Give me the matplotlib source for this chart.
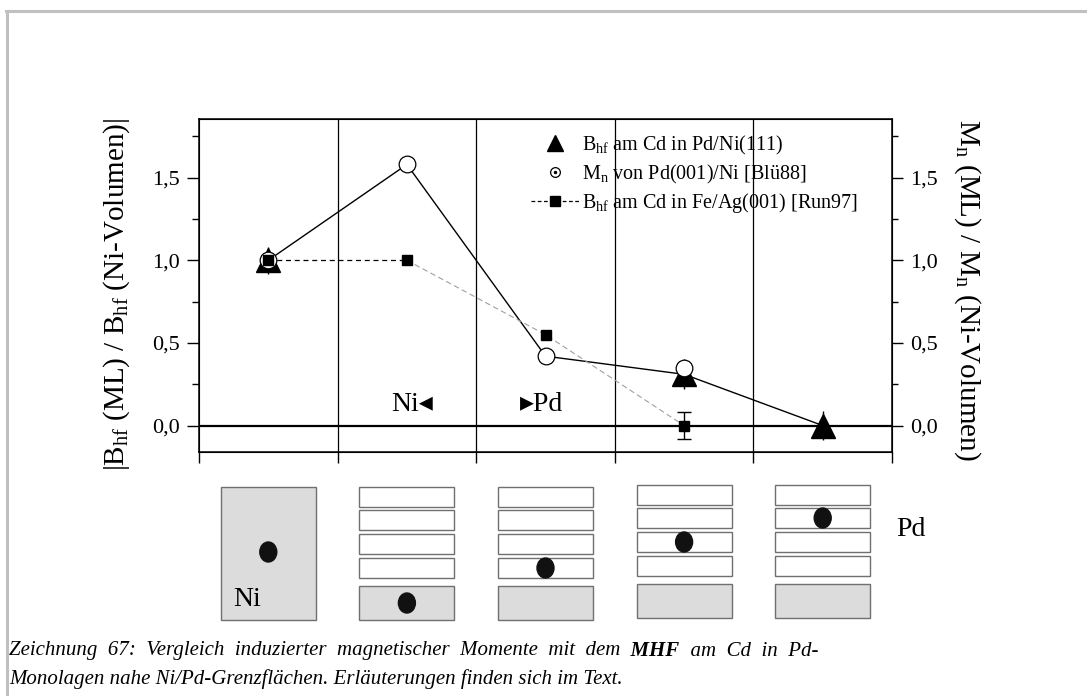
import numpy as np
import matplotlib
matplotlib.use("Agg")
import matplotlib.pyplot as plt
from matplotlib.lines import Line2D
from matplotlib.patches import Rectangle, Ellipse
from matplotlib.legend_handler import HandlerTuple

plt.rcParams['font.family'] = ['Liberation Serif', 'DejaVu Serif']
plt.rcParams['mathtext.fontset'] = 'custom'
plt.rcParams['mathtext.rm'] = 'Liberation Serif'
plt.rcParams['mathtext.it'] = 'Liberation Serif:italic'

# monolayer positions (Ni bulk, interface layer, Pd layers 1..3)
positions = [0.5, 1.5, 2.5, 3.5, 4.5]

# B_hf at Cd in Pd/Ni(111)
tri_x = [0.5, 3.5, 4.5]
tri_y = [1.0, 0.31, 0.0]
tri_err = [0.08, 0.09, 0.09]

# M_n of Pd(001)/Ni [Blü88]
circ_x = [0.5, 1.5, 2.5, 3.5]
circ_y = [1.0, 1.58, 0.42, 0.35]

# B_hf at Cd in Fe/Ag(001) [Run97]
sq_x = [0.5, 1.5, 2.5, 3.5]
sq_y = [1.0, 1.0, 0.55, 0.0]
sq_err = [0.0, 0.0, 0.0, 0.08]

yticks = [0.0, 0.5, 1.0, 1.5]
ytick_labels = ['0,0', '0,5', '1,0', '1,5']

# layer of the Cd probe in each sketch column (-1: Ni bulk, 0: Ni interface layer, 1..3: Pd layers)
probe_layer = [-1, 0, 1, 2, 3]

labels = [r'B$_{\rm hf}$ am Cd in Pd/Ni(111)',
          r'M$_{\rm n}$ von Pd(001)/Ni [Blü88]',
          r'B$_{\rm hf}$ am Cd in Fe/Ag(001) [Run97]']

W, H = 1087, 696
fig = plt.figure(figsize=(W / 100, H / 100), dpi=100)

# light grey page frame (left and top edge)
fig.add_artist(Line2D([7 / W, 7 / W], [0, 1 - 11 / H], transform=fig.transFigure,
                      color='#c0c0c0', lw=2.2))
fig.add_artist(Line2D([6 / W, 1], [1 - 11 / H, 1 - 11 / H], transform=fig.transFigure,
                      color='#c0c0c0', lw=2.2))

ax_l, ax_r, ax_t, ax_b = 199, 892, 119, 452
ax = fig.add_axes([ax_l / W, 1 - ax_b / H, (ax_r - ax_l) / W, (ax_b - ax_t) / H])
ax.set_xlim(0, 5)
ax.set_ylim(-0.16, 1.855)

for x in range(1, 5):
    ax.axvline(x, color='k', lw=0.9, zorder=1)
ax.axhline(0, color='k', lw=1.6, zorder=1)

# connecting lines
line_y = circ_y[:3] + tri_y[1:]
ax.plot(positions, line_y, color='k', lw=1.0, zorder=2)
ax.plot(sq_x[:2], sq_y[:2], color='k', lw=0.9, ls=(0, (4, 3)), zorder=2)
ax.plot(sq_x[1:], sq_y[1:], color='#a0a0a0', lw=0.8, ls=(0, (5, 3)), zorder=2)

ax.errorbar(tri_x, tri_y, yerr=tri_err, fmt='none', ecolor='k', elinewidth=1.0, zorder=3)
ax.plot(tri_x, tri_y, ls='none', marker='^', ms=17.5, color='k', zorder=4)
ax.plot(circ_x, circ_y, ls='none', marker='o', ms=12, mfc='white', mec='k', mew=0.9, zorder=5)
err_idx = [i for i, e in enumerate(sq_err) if e > 0]
ax.errorbar([sq_x[i] for i in err_idx], [sq_y[i] for i in err_idx],
            yerr=[sq_err[i] for i in err_idx], fmt='none', ecolor='k',
            elinewidth=1.0, capsize=5, capthick=1.0, zorder=5)
ax.plot(sq_x, sq_y, ls='none', marker='s', ms=7, color='k', zorder=6)

ax.text(1.54, 0.13, 'Ni◂', fontsize=20, ha='center', va='center',
        family=['Liberation Serif', 'DejaVu Sans'])
ax.text(2.47, 0.13, '▸Pd', fontsize=20, ha='center', va='center',
        family=['Liberation Serif', 'DejaVu Sans'])

ax.set_xticks(range(6))
ax.set_xticklabels([])
ax.tick_params(axis='x', direction='out', length=8, width=1.0, top=False)
ax.set_yticks(yticks)
ax.set_yticklabels(ytick_labels)
ax.set_yticks(np.arange(-0.0, 1.8, 0.25), minor=True)
ax.tick_params(axis='y', which='major', direction='out', length=9, width=1.0,
               labelsize=16, pad=5)
ax.tick_params(axis='y', which='minor', direction='out', length=5, width=1.0)
for s in ax.spines.values():
    s.set_linewidth(1.1)

ax2 = ax.twinx()
ax2.set_ylim(ax.get_ylim())
ax2.set_yticks(yticks)
ax2.set_yticklabels(ytick_labels)
ax2.set_yticks(np.arange(-0.0, 1.8, 0.25), minor=True)
ax2.tick_params(axis='y', which='major', direction='out', length=8, width=1.0,
                labelsize=16, pad=5)
ax2.tick_params(axis='y', which='minor', direction='out', length=4.5, width=1.0)

fig.text(117 / W, 1 - 294 / H, r'|B$_{\rm hf}$ (ML) / B$_{\rm hf}$ (Ni-Volumen)|',
         rotation=90, fontsize=21, ha='center', va='center')
fig.text(967 / W, 1 - 290 / H, r'M$_{\rm n}$ (ML) / M$_{\rm n}$ (Ni-Volumen)',
         rotation=270, fontsize=21, ha='center', va='center')

# legend
h_tri = Line2D([], [], ls='none', marker='^', ms=12, color='k')
h_circ = (Line2D([], [], ls='none', marker='o', ms=7, mfc='white', mec='k', mew=0.9),
          Line2D([], [], ls='none', marker='o', ms=1.5, color='k'))
h_sq = Line2D([], [], ls=(0, (3, 2)), lw=0.9, color='k', marker='s', ms=7)
ax.legend([h_tri, h_circ, h_sq], labels, loc='upper left',
          bbox_to_anchor=((531 - ax_l) / (ax_r - ax_l), 0.955), frameon=False,
          fontsize=14.5, handlelength=2.4, handletextpad=0.15, labelspacing=0.28,
          borderpad=0, borderaxespad=0,
          handler_map={tuple: HandlerTuple(ndivide=1, pad=0)})

# layer sketches below the plot, y in pixel units
sk_top, sk_bot = 470, 640
sk = fig.add_axes([ax_l / W, 1 - sk_bot / H, (ax_r - ax_l) / W, (sk_bot - sk_top) / H])
sk.set_xlim(0, 5)
sk.set_ylim(sk_bot, sk_top)
sk.axis('off')

half_w = 0.343
px = (ax_r - ax_l) / 5.0
grey = '#dcdcdc'
edge = '#707070'
for i, (xc, layer) in enumerate(zip(positions, probe_layer)):
    shift = 0 if i < 3 else -2
    if layer < 0:
        sk.add_patch(Rectangle((xc - half_w, 487), 2 * half_w, 133, fc=grey, ec=edge, lw=1.0))
        sk.add_patch(Ellipse((xc, 552), 17 / px, 20, color='#111111'))
        sk.text(xc - 0.25, 599, 'Ni', fontsize=20, ha='left', va='center')
        continue
    sk.add_patch(Rectangle((xc - half_w, 586 + shift), 2 * half_w, 34,
                           fc=grey, ec=edge, lw=1.0))
    tops = [558, 534, 510, 487]
    for t in tops:
        sk.add_patch(Rectangle((xc - half_w, t + shift), 2 * half_w, 20,
                               fc='white', ec=edge, lw=1.0))
    if layer == 0:
        cy = 603 + shift
    else:
        cy = tops[layer - 1] + 10 + shift
    sk.add_patch(Ellipse((xc, cy), 17 / px, 20, color='#111111'))
sk.text(5.03, 530, 'Pd', fontsize=20, ha='left', va='center', clip_on=False)

# caption, first line justified with wider word gaps
cap = fig.add_axes([0, 0, 1, 1])
cap.axis('off')
cap.set_zorder(-1)
t1 = cap.text(9 / W, 1 - 651 / H,
              'Zeichnung  67:  Vergleich  induzierter  magnetischer  Momente  mit  dem',
              fontsize=15, style='italic', ha='left', va='center')
t2 = cap.annotate('  MHF', xy=(1, 0), xycoords=t1, fontsize=15, style='italic',
                  weight='bold', ha='left', va='bottom')
cap.annotate('  am  Cd  in  Pd-', xy=(1, 0), xycoords=t2, fontsize=15, style='italic',
             ha='left', va='bottom')
cap.text(9 / W, 1 - 679 / H,
         'Monolagen nahe Ni/Pd-Grenzflächen. Erläuterungen finden sich im Text.',
         fontsize=15, style='italic', ha='left', va='center')

fig.savefig('out.png', dpi=100)
